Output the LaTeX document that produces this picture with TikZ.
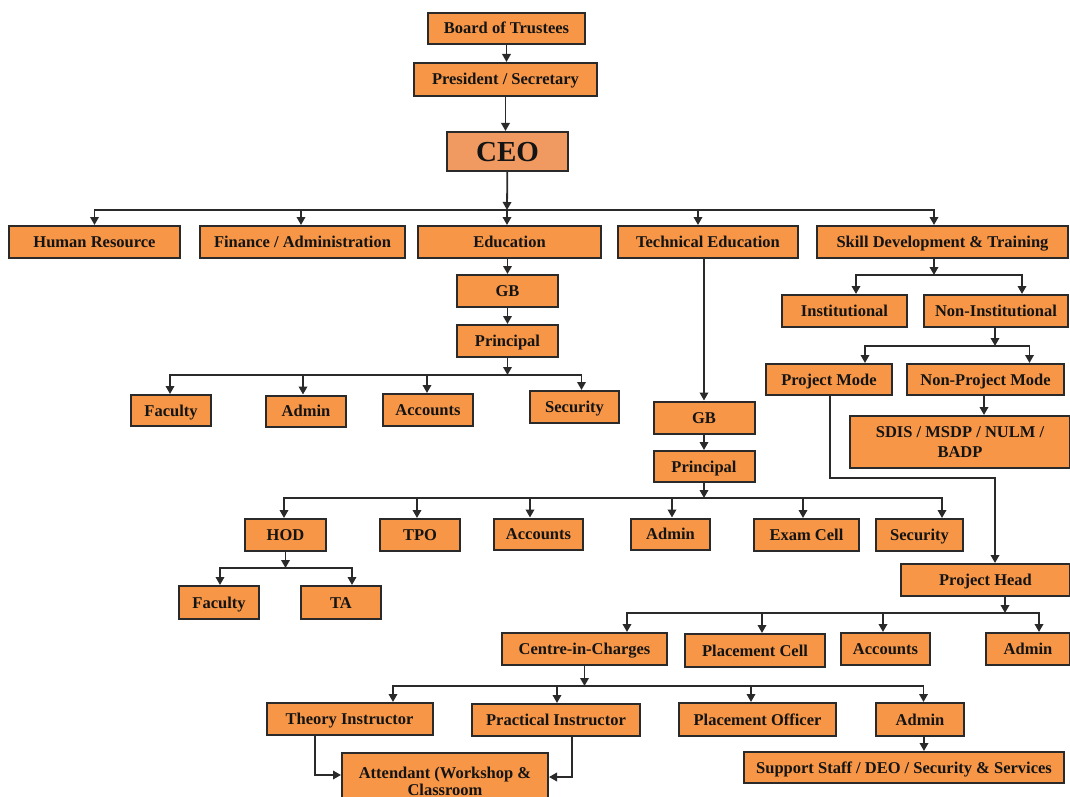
\documentclass[tikz,border=0pt]{standalone}
\usepackage{fontspec}
\setmainfont{Liberation Serif}
\usetikzlibrary{arrows.meta}
\definecolor{boxfill}{HTML}{F79646}
\definecolor{ceofill}{HTML}{F09A62}
\definecolor{edgecol}{HTML}{2A2A2A}
\tikzset{
  basebox/.style={draw=edgecol, line width=2pt, fill=boxfill, inner sep=0pt,
    minimum height=32pt, text=black!92,
    font=\fontsize{16.5}{20}\selectfont\bfseries, align=center},
  orgbox/.style={basebox, text height=11pt, text depth=0pt},
  arr/.style={draw=edgecol, line width=1.8pt, -{Triangle[length=8pt,width=8.5pt]}},
}
\begin{document}
\begin{tikzpicture}[x=1pt,y=-1pt]
\useasboundingbox[fill=white] (0,0) rectangle (1070,797);
% top
\node[orgbox, minimum width=157pt, minimum height=31pt] (bot) at (506.5,28.5) {Board of Trustees};
\node[orgbox, minimum width=183pt, minimum height=33pt] (pres) at (505.5,79.5) {President / Secretary};
\node[orgbox, fill=ceofill, minimum width=121pt, minimum height=39pt, text height=19pt, font=\fontsize{29}{32}\selectfont\bfseries] (ceo) at (507.5,151.5) {CEO};
% level 1
\node[orgbox, minimum width=171pt] (hr) at (94.5,242) {Human Resource};
\node[orgbox, minimum width=205pt] (fin) at (302.5,242) {Finance / Administration};
\node[orgbox, minimum width=183pt] (edu) at (509.5,242) {Education};
\node[orgbox, minimum width=180pt] (tech) at (708,242) {Technical Education};
\node[orgbox, minimum width=251pt] (skill) at (942.5,242) {Skill Development \& Training};
% education
\node[orgbox, minimum width=101pt] (gb1) at (507.5,291) {GB};
\node[orgbox, minimum width=101pt] (pr1) at (507.5,341) {Principal};
\node[orgbox, minimum width=80pt, minimum height=31pt] (fac1) at (171,410.5) {Faculty};
\node[orgbox, minimum width=80pt, minimum height=31pt] (adm1) at (306,411) {Admin};
\node[orgbox, minimum width=90pt] (acc1) at (428,410) {Accounts};
\node[orgbox, minimum width=89pt] (sec1) at (574.5,407) {Security};
% technical education
\node[orgbox, minimum width=101pt] (gb2) at (704,417.5) {GB};
\node[orgbox, minimum width=101pt, minimum height=31pt] (pr2) at (704,466.5) {Principal};
\node[orgbox, minimum width=81pt] (hod) at (285.5,535) {HOD};
\node[orgbox, minimum width=80pt] (tpo) at (420,535) {TPO};
\node[orgbox, minimum width=89pt, minimum height=31pt] (acc2) at (538.5,534) {Accounts};
\node[orgbox, minimum width=79pt, minimum height=31pt] (adm2) at (670.5,534) {Admin};
\node[orgbox, minimum width=105pt] (exam) at (806.5,535) {Exam Cell};
\node[orgbox, minimum width=87pt] (sec2) at (919.5,535) {Security};
\node[orgbox, minimum width=80pt, minimum height=33pt] (fac2) at (219,602.5) {Faculty};
\node[orgbox, minimum width=80pt, minimum height=33pt] (ta) at (341,602.5) {TA};
% skill development
\node[orgbox, minimum width=125pt] (inst) at (844.5,311) {Institutional};
\node[orgbox, minimum width=144pt] (noninst) at (996,311) {Non-Institutional};
\node[orgbox, minimum width=126pt, minimum height=31pt] (pm) at (829,379.5) {Project Mode};
\node[orgbox, minimum width=157pt, minimum height=31pt] (npm) at (985.5,379.5) {Non-Project Mode};
\node[basebox, minimum width=220pt, minimum height=52pt] (sdis) at (960,442) {SDIS / MSDP / NULM /\\BADP};
\node[orgbox, minimum width=169pt] (ph) at (985.5,580) {Project Head};
\node[orgbox, minimum width=165pt] (cic) at (584.5,649) {Centre-in-Charges};
\node[orgbox, minimum width=140pt, minimum height=33pt] (pc) at (755,650.5) {Placement Cell};
\node[orgbox, minimum width=89pt] (acc3) at (885.5,649) {Accounts};
\node[orgbox, minimum width=84pt] (adm3) at (1028,649) {Admin};
\node[orgbox, minimum width=166pt] (ti) at (349.5,719) {Theory Instructor};
\node[orgbox, minimum width=168pt] (pi) at (556,720) {Practical Instructor};
\node[orgbox, minimum width=157pt, minimum height=33pt] (po) at (757.5,719.5) {Placement Officer};
\node[orgbox, minimum width=88pt, minimum height=33pt] (adm4) at (920,719.5) {Admin};
\node[orgbox, minimum width=320pt, minimum height=31pt] (sup) at (904,767.5) {Support Staff / DEO / Security \& Services};
\node[basebox, minimum width=206pt, minimum height=56pt, font=\fontsize{16.5}{17}\selectfont\bfseries] (att) at (445,781) {Attendant (Workshop \&\\Classroom};
% connectors: top
\draw[arr] (bot) -- (bot |- pres.north);
\draw[arr] (pres) -- (pres |- ceo.north);
\coordinate (k0) at (507,210);
\draw[arr] (ceo) -- (k0);
\foreach \n/\d in {hr/0, fin/-1.5, edu/-2.5, tech/-10, skill/-8.5}
  \draw[arr] (k0) -| ([xshift=\d pt]\n.north);
% education
\draw[arr] (gb1 |- edu.south) -- (gb1);
\draw[arr] (gb1) -- (pr1);
\coordinate (k1) at (507.5,375);
\draw[arr] (pr1) -- (k1);
\foreach \n/\d in {fac1/-1, adm1/-3, acc1/-1, sec1/7}
  \draw[arr] (k1) -| ([xshift=\d pt]\n.north);
% technical education
\draw[arr] (gb2 |- tech.south) -- (gb2);
\draw[arr] (gb2) -- (pr2);
\coordinate (k2) at (704,498);
\draw[arr] (pr2) -- (k2);
\foreach \n/\d in {hod/-1.5, tpo/-3, acc2/-8.5, adm2/1.5, exam/-3.5, sec2/22.5}
  \draw[arr] (k2) -| ([xshift=\d pt]\n.north);
\coordinate (k3) at (285.5,568);
\draw[arr] (hod) -- (k3);
\foreach \n/\d in {fac2/1, ta/11}
  \draw[arr] (k3) -| ([xshift=\d pt]\n.north);
% skill development
\coordinate (k4) at (934,275);
\draw[arr] (k4 |- skill.south) -- (k4);
\foreach \n/\d in {inst/11.5, noninst/26}
  \draw[arr] (k4) -| ([xshift=\d pt]\n.north);
\coordinate (k5) at (995,346);
\draw[arr] (k5 |- noninst.south) -- (k5);
\foreach \n/\d in {pm/36, npm/44}
  \draw[arr] (k5) -| ([xshift=\d pt]\n.north);
\coordinate (k6) at (984,400);
\draw[arr] (k6 |- npm.south) -- (k6 |- sdis.north);
\coordinate (k7) at (830,478);
\coordinate (k8) at (995,478);
\draw[arr] (k7 |- pm.south) -- (k7) -- (k8) -- (k8 |- ph.north);
% project head
\coordinate (k9) at (1005,613);
\draw[arr] (k9 |- ph.south) -- (k9);
\foreach \n/\d in {cic/42.5, pc/7, acc3/-2.5, adm3/11}
  \draw[arr] (k9) -| ([xshift=\d pt]\n.north);
\coordinate (k10) at (584.5,686);
\draw[arr] (cic) -- (k10);
\foreach \n/\d in {ti/43.5, pi/1, po/-6.5, adm4/3.5}
  \draw[arr] (k10) -| ([xshift=\d pt]\n.north);
\coordinate (k11) at (924,740);
\draw[arr] (k11 |- adm4.south) -- (k11 |- sup.north);
\coordinate (k12) at (315,775);
\draw[arr] (k12 |- ti.south) -- (k12) -- (k12 -| att.west);
\coordinate (k13) at (572,777);
\draw[arr] (k13 |- pi.south) -- (k13) -- (k13 -| att.east);
\end{tikzpicture}
\end{document}
